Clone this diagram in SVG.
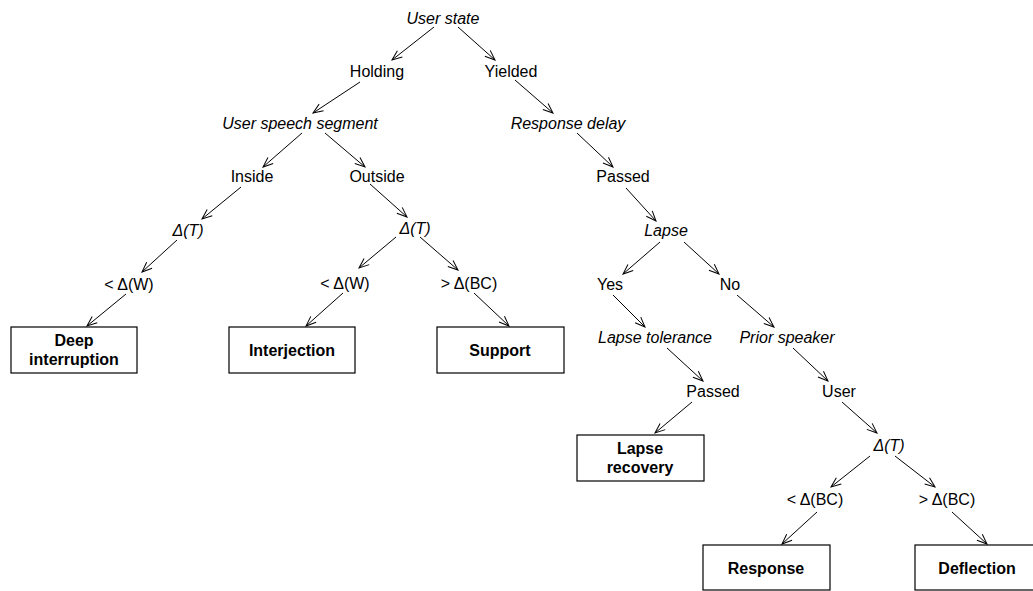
<svg xmlns="http://www.w3.org/2000/svg" width="1033" height="591" viewBox="0 0 1033 591">
<style>
text{font-family:"Liberation Sans",Arial,sans-serif;font-size:16px;fill:#000;text-anchor:middle}
.i{font-style:italic}
.b{font-weight:bold}
.box{fill:#fff;stroke:#000;stroke-width:1.2}
.c line{stroke:#000;stroke-width:1;marker-end:url(#ah)}
</style>
<defs>
<marker id="ah" markerUnits="userSpaceOnUse" markerWidth="12" markerHeight="12" viewBox="0 0 12 12" refX="11" refY="6" orient="auto">
<path d="M1,2 L11,6 L1,10" fill="none" stroke="#000" stroke-width="1"/>
</marker>
</defs>
<rect width="1033" height="591" fill="#fff"/>
<g class="c" id="connectors">
<line x1="434" y1="27" x2="392" y2="60"/>
<line x1="458" y1="27" x2="495" y2="60"/>
<line x1="360" y1="82" x2="313" y2="113"/>
<line x1="515" y1="80" x2="553" y2="113"/>
<line x1="302" y1="133" x2="263" y2="167"/>
<line x1="325" y1="133" x2="365" y2="167"/>
<line x1="577" y1="133" x2="613" y2="167"/>
<line x1="241" y1="187" x2="202" y2="219"/>
<line x1="370" y1="184" x2="407" y2="217"/>
<line x1="626" y1="188" x2="656" y2="221"/>
<line x1="177" y1="240" x2="142" y2="272"/>
<line x1="396" y1="237" x2="359" y2="268"/>
<line x1="420" y1="237" x2="458" y2="270"/>
<line x1="660" y1="242" x2="623" y2="274"/>
<line x1="684" y1="242" x2="719" y2="274"/>
<line x1="126" y1="294" x2="87" y2="326"/>
<line x1="343" y1="293" x2="306" y2="326"/>
<line x1="474" y1="293" x2="509" y2="326"/>
<line x1="613" y1="295" x2="645" y2="327"/>
<line x1="737" y1="295" x2="774" y2="327"/>
<line x1="667" y1="348" x2="703" y2="381"/>
<line x1="793" y1="348" x2="828" y2="381"/>
<line x1="692" y1="402" x2="655" y2="433"/>
<line x1="842" y1="402" x2="877" y2="433"/>
<line x1="870" y1="456" x2="831" y2="487"/>
<line x1="895" y1="456" x2="935" y2="487"/>
<line x1="817" y1="512" x2="782" y2="544"/>
<line x1="952" y1="512" x2="987" y2="544"/>
</g>
<g id="n-user-state"><text class="i" x="443" y="24">User state</text></g>
<g id="n-holding"><text x="377" y="77">Holding</text></g>
<g id="n-yielded"><text x="511" y="77">Yielded</text></g>
<g id="n-user-speech-segment"><text class="i" x="300" y="129">User speech segment</text></g>
<g id="n-response-delay"><text class="i" x="568" y="129">Response delay</text></g>
<g id="n-inside"><text x="252" y="182">Inside</text></g>
<g id="n-outside"><text x="377" y="182">Outside</text></g>
<g id="n-passed1"><text x="623" y="182">Passed</text></g>
<g id="n-dt1"><text class="i" x="188" y="236">Δ(T)</text></g>
<g id="n-dt2"><text class="i" x="415" y="234">Δ(T)</text></g>
<g id="n-lapse"><text class="i" x="666" y="236">Lapse</text></g>
<g id="n-ltw1"><text x="129" y="290">&lt; Δ(W)</text></g>
<g id="n-ltw2"><text x="345" y="289">&lt; Δ(W)</text></g>
<g id="n-gtbc1"><text x="469" y="289">&gt; Δ(BC)</text></g>
<g id="n-yes"><text x="610" y="290">Yes</text></g>
<g id="n-no"><text x="730" y="290">No</text></g>
<g id="n-deep"><rect class="box" x="11" y="327" width="126" height="46"/><text class="b" x="74" y="346">Deep</text><text class="b" x="74" y="365">interruption</text></g>
<g id="n-interjection"><rect class="box" x="229" y="327" width="126" height="46"/><text class="b" x="292" y="356">Interjection</text></g>
<g id="n-support"><rect class="box" x="437" y="327" width="127" height="46"/><text class="b" x="500" y="356">Support</text></g>
<g id="n-lapse-tolerance"><text class="i" x="655" y="343">Lapse tolerance</text></g>
<g id="n-prior-speaker"><text class="i" x="787" y="343">Prior speaker</text></g>
<g id="n-passed2"><text x="713" y="397">Passed</text></g>
<g id="n-user"><text x="839" y="397">User</text></g>
<g id="n-lapse-recovery"><rect class="box" x="577" y="435" width="127" height="46"/><text class="b" x="640" y="454">Lapse</text><text class="b" x="640" y="473">recovery</text></g>
<g id="n-dt3"><text class="i" x="889" y="451">Δ(T)</text></g>
<g id="n-ltbc"><text x="815" y="505">&lt; Δ(BC)</text></g>
<g id="n-gtbc2"><text x="947" y="505">&gt; Δ(BC)</text></g>
<g id="n-response"><rect class="box" x="703" y="545" width="127" height="45"/><text class="b" x="766" y="574">Response</text></g>
<g id="n-deflection"><rect class="box" x="915" y="545" width="127" height="45"/><text class="b" x="977" y="574">Deflection</text></g>
</svg>
